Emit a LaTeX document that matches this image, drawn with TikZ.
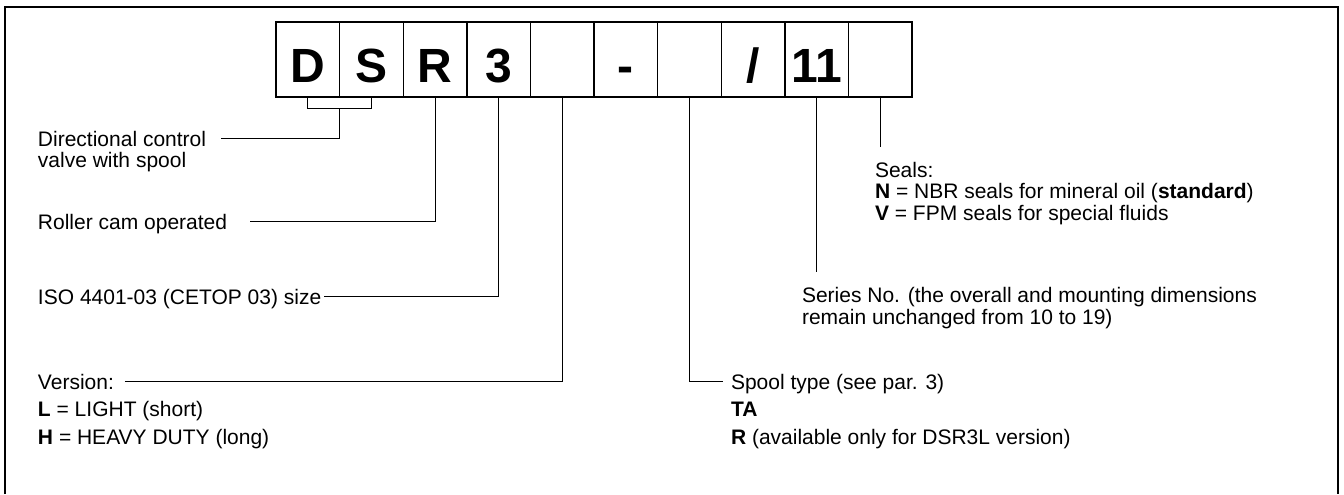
\documentclass[tikz,border=0pt]{standalone}
\usepackage{fontspec}
\setmainfont{Liberation Sans}
\usetikzlibrary{positioning}

\begin{document}
\begin{tikzpicture}
[
x=0.5pt, y=-0.5pt,
cell-a/.style={rectangle, draw, line width=0.7pt, minimum width=31.8pt, minimum height=37.5pt, inner sep=0pt, outer sep=0pt, text height=22.5pt, text depth=0pt, font=\fontsize{24}{24}\selectfont\bfseries},
text-a/.style={inner sep=0pt, outer sep=0pt, anchor=base west, text height=7.5pt, text depth=0pt, font=\fontsize{10.5}{12}\selectfont},
line-a/.style={line width=0.5pt}
]
\useasboundingbox (0,0) rectangle (1344,494);
\draw [line width=0.7pt] (5,494) |- (1338,7) -- (1338,494);
% code cells
\node (cell-1)  [cell-a] at (307.8,59.5)        {D};
\node (cell-2)  [cell-a, right = 0pt of cell-1] {S};
\node (cell-3)  [cell-a, right = 0pt of cell-2] {R};
\node (cell-4)  [cell-a, right = 0pt of cell-3] {3};
\node (cell-5)  [cell-a, right = 0pt of cell-4] {};
\node (cell-6)  [cell-a, right = 0pt of cell-5] {-};
\node (cell-7)  [cell-a, right = 0pt of cell-6] {};
\node (cell-8)  [cell-a, right = 0pt of cell-7] {/};
\node (cell-9)  [cell-a, right = 0pt of cell-8] {11};
\node (cell-10) [cell-a, right = 0pt of cell-9] {};
% labels
\node (dir-1)     [text-a] at (38,146) {Directional control};
\node (dir-2)     [text-a, below right = 3pt and 0pt of dir-1.south west] {valve with spool};
\node (roller)    [text-a] at (38,229) {Roller cam operated};
\node (iso)       [text-a] at (38,304) {ISO 4401-03 (CETOP 03) size};
\node (version-1) [text-a] at (38,389) {Version:};
\node (version-2) [text-a, below right = 6pt and 0pt of version-1.south west] {\textbf{L} = LIGHT (short)};
\node (version-3) [text-a, below right = 6.5pt and 0pt of version-2.south west] {\textbf{H} = HEAVY DUTY (long)};
\node (spool-1)   [text-a] at (731,389) {Spool type (see par. 3)};
\node (spool-2)   [text-a, below right = 6pt and 0pt of spool-1.south west] {\textbf{TA}};
\node (spool-3)   [text-a, below right = 6.5pt and 0pt of spool-2.south west] {\textbf{R} (available only for DSR3L version)};
\node (series-1)  [text-a] at (802,302) {Series No. (the overall and mounting dimensions};
\node (series-2)  [text-a, below right = 3.5pt and 0pt of series-1.south west] {remain unchanged from 10 to 19)};
\node (seals-1)   [text-a] at (875,177) {Seals:};
\node (seals-2)   [text-a, below right = 3.25pt and 0pt of seals-1.south west] {\textbf{N} = NBR seals for mineral oil (\textbf{standard})};
\node (seals-3)   [text-a, below right = 3.25pt and 0pt of seals-2.south west] {\textbf{V} = FPM seals for special fluids};
% connectors
\coordinate (brace-l)    at ([yshift=-5.5pt]cell-1.south);
\coordinate (series-top) at ([yshift=7.5pt]series-1.north);
\coordinate (seals-top)  at ([yshift=7.5pt]seals-1.north);
\draw [line-a] (cell-1.south) -- (brace-l) -| (cell-2.south);
\draw [line-a] ([xshift=7.5pt]dir-1.east) -| (brace-l -| cell-1.south east);
\draw [line-a] ([xshift=11.5pt]roller.east) -| (cell-3.south);
\draw [line-a] ([xshift=1.5pt]iso.east) -| (cell-4.south);
\draw [line-a] ([xshift=5.5pt]version-1.east) -| (cell-5.south);
\draw [line-a] (cell-7.south) |- ([xshift=-4pt]spool-1.west);
\draw [line-a] (cell-9.south) -- (series-top -| cell-9.south);
\draw [line-a] (cell-10.south) -- (seals-top -| cell-10.south);
\end{tikzpicture}
\end{document}
